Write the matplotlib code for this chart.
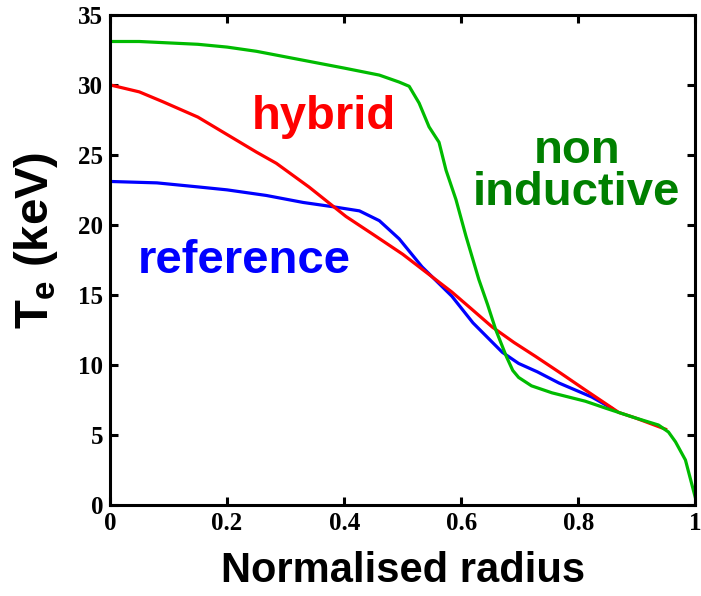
import matplotlib
matplotlib.use('Agg')
import matplotlib.pyplot as plt

plt.rcParams['mathtext.fontset'] = 'custom'
plt.rcParams['mathtext.bf'] = 'Liberation Sans:bold'
plt.rcParams['mathtext.rm'] = 'Liberation Sans:bold'

# temperature profiles (keV vs normalised radius)
r_noninductive = [0.0, 0.05, 0.1, 0.15, 0.2, 0.25, 0.3, 0.35, 0.4, 0.46, 0.494, 0.511,
                  0.528, 0.545, 0.562, 0.574, 0.591, 0.608, 0.63, 0.645, 0.659, 0.677,
                  0.688, 0.698, 0.72, 0.755, 0.812, 0.847, 0.898, 0.937, 0.954, 0.966,
                  0.983, 1.0]
te_noninductive = [33.1, 33.1, 33.0, 32.9, 32.7, 32.4, 32.0, 31.6, 31.2, 30.7, 30.2, 29.9,
                   28.7, 27.0, 25.9, 23.9, 21.8, 19.2, 16.1, 14.3, 12.5, 10.6,
                   9.6, 9.1, 8.5, 8.0, 7.4, 6.9, 6.2, 5.7, 5.2, 4.5,
                   3.2, 0.5]

r_hybrid = [0.0, 0.05, 0.09, 0.15, 0.21, 0.25, 0.284, 0.34, 0.403, 0.45, 0.5, 0.528,
            0.584, 0.62, 0.653, 0.69, 0.727, 0.77, 0.812, 0.869, 0.898, 0.949]
te_hybrid = [30.0, 29.5, 28.8, 27.7, 26.2, 25.2, 24.4, 22.7, 20.6, 19.3, 17.9, 17.0,
             15.2, 13.9, 12.7, 11.6, 10.6, 9.4, 8.2, 6.6, 6.2, 5.4]

r_reference = [0.0, 0.08, 0.153, 0.2, 0.267, 0.33, 0.38, 0.426, 0.46, 0.494, 0.533,
               0.584, 0.62, 0.67, 0.698, 0.73, 0.767, 0.823, 0.857]
te_reference = [23.1, 23.0, 22.7, 22.5, 22.1, 21.6, 21.3, 21.0, 20.3, 19.0, 17.0,
                14.9, 13.0, 10.9, 10.1, 9.5, 8.7, 7.7, 6.9]

fig = plt.figure(figsize=(7.01, 5.96), dpi=100)
ax = fig.add_axes([0.157, 0.153, 0.835, 0.822])

ax.plot(r_reference, te_reference, color='#0000ff', lw=2.3)
ax.plot(r_hybrid, te_hybrid, color='#ff0000', lw=2.3)
ax.plot(r_noninductive, te_noninductive, color='#00bb00', lw=2.3)

ax.text(0.366, 27.7, 'hybrid', color='#ff0000', fontsize=34, fontweight='bold',
        family='Liberation Sans', ha='center', va='center')
ax.text(0.23, 17.4, 'reference', color='#0000ff', fontsize=34, fontweight='bold',
        family='Liberation Sans', ha='center', va='center')
ax.text(0.797, 23.8, 'non\ninductive', color='#008000', fontsize=34, fontweight='bold',
        family='Liberation Sans', ha='center', va='center', linespacing=0.95)

ax.set_xlim(0, 1)
ax.set_ylim(0, 35)
ax.set_xticks([0, 0.2, 0.4, 0.6, 0.8, 1])
ax.set_xticklabels(['0', '0.2', '0.4', '0.6', '0.8', '1'])
ax.set_yticks(range(0, 36, 5))

for s in ax.spines.values():
    s.set_linewidth(2.2)
ax.tick_params(direction='in', length=6, width=2.2, top=True, right=True, pad=5)
for lab in ax.get_xticklabels() + ax.get_yticklabels():
    lab.set_family('Liberation Serif')
    lab.set_fontweight('bold')
    lab.set_fontsize(18)

ax.set_xlabel('Normalised radius', fontsize=30, fontweight='bold', family='Liberation Sans')
ax.set_ylabel(r'$\mathbf{T_e}$ (keV)', fontsize=34, fontweight='bold', family='Liberation Sans')
ax.yaxis.set_label_coords(-0.085, 0.54)
ax.xaxis.set_label_coords(0.5, -0.095)

fig.savefig('out.png', dpi=100)
